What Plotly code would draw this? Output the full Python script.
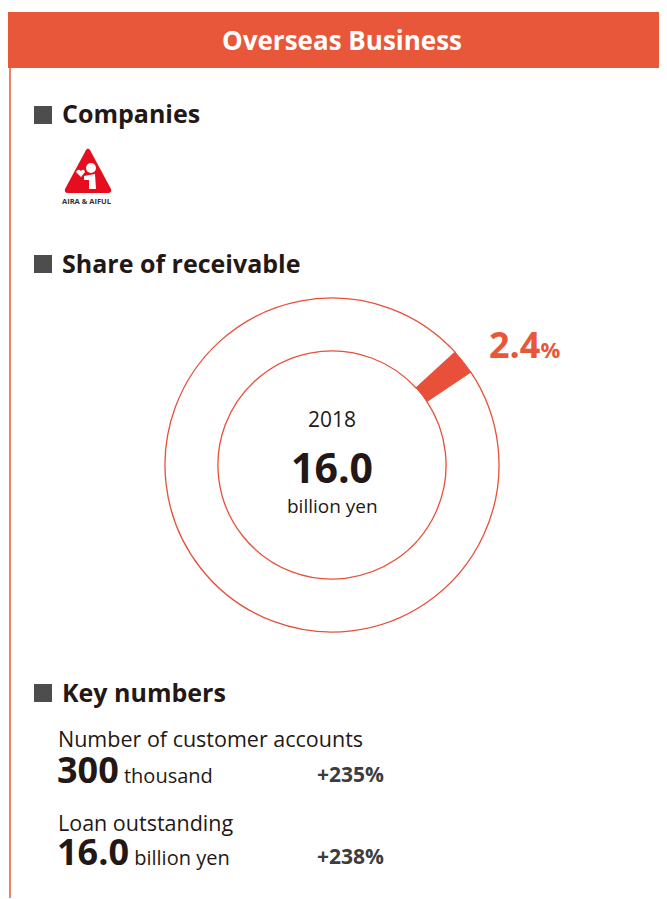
import plotly.graph_objects as go

# ---- data ----
share_labels = ["Overseas Business", "Other"]
share_values = [2.4, 97.6]
center_year = "2018"
center_value = "16.0"
center_unit = "billion yen"
share_text = "2.4"
metric_names = ["Number of customer accounts", "Loan outstanding"]
metric_values = ["300", "16.0"]
metric_units = ["thousand", "billion yen"]
metric_growth = ["+235%", "+238%"]
section_titles = ["Companies", "Share of receivable", "Key numbers"]
title_text = "Overseas Business"

W, H = 667, 899
OFF = 8  # page body margin
ORANGE = "#E9573A"
RING = "#E8503A"
DARK = "#231815"
GRAY = "#4D4D4D"
FONT = "Open Sans"

fig = go.Figure()

# donut
cx, cy, R = 332, 465, 167
fx, fy = cx - OFF, H - (cy - OFF)
fig.add_trace(go.Pie(
    labels=share_labels, values=share_values, hole=0.683,
    sort=False, direction="clockwise", rotation=47.5,
    marker=dict(colors=[RING, "white"], line=dict(color=[RING, RING], width=[1, 1.3])),
    textinfo="none", hoverinfo="skip", showlegend=False,
    domain=dict(x=[(fx - R) / W, (fx + R) / W], y=[(fy - R) / H, (fy + R) / H]),
))

shapes = []
# header bar
shapes.append(dict(type="rect", xref="x", yref="y", x0=8, x1=680, y0=12, y1=68,
                   fillcolor=ORANGE, line=dict(width=0), layer="below"))
# left border line
shapes.append(dict(type="line", xref="x", yref="y", x0=10, x1=10, y0=68, y1=898,
                   line=dict(color=ORANGE, width=1.5)))
# section squares
for yc in [115, 264, 693]:
    shapes.append(dict(type="rect", xref="x", yref="y", x0=34, x1=52, y0=yc - 9, y1=yc + 9,
                       fillcolor=GRAY, line=dict(width=0)))
# logo
shapes.append(dict(type="path", xref="x", yref="y",
                   path="M 86 150 Q 88 147 90 150 L 111 189 Q 112 193 108 193 L 68 193 Q 64 193 65 189 Z",
                   fillcolor="#E60E1E", line=dict(width=0)))
shapes.append(dict(type="circle", xref="x", yref="y", x0=86, x1=96, y0=163, y1=173,
                   fillcolor="white", line=dict(width=0)))
shapes.append(dict(type="path", xref="x", yref="y",
                   path="M 84 176 L 95 174 L 96 189 L 89 189 L 89 180 L 84 180 Z",
                   fillcolor="white", line=dict(width=0)))
shapes.append(dict(type="path", xref="x", yref="y",
                   path="M 76 172 Q 78 168 81 171 Q 84 168 85 172 L 81 177 Z",
                   fillcolor="white", line=dict(width=0)))

annotations = []
def ann(x, y, text, size, color=DARK, bold=False, xanchor="left", yanchor="middle"):
    t = f"<b>{text}</b>" if bold else text
    annotations.append(dict(x=x, y=y, xref="x", yref="y", text=t, showarrow=False,
                            xanchor=xanchor, yanchor=yanchor,
                            font=dict(family=FONT, size=size, color=color)))

ann(342, 40, title_text, 26, color="white", bold=True, xanchor="center")
ann(60, 113, section_titles[0], 25, bold=True)
ann(60, 263, section_titles[1], 25, bold=True)
ann(60, 692, section_titles[2], 25, bold=True)
ann(86, 201, "<b>AIRA &amp; AIFUL</b>", 7.5, color="#333333", xanchor="center")

# center texts
ann(332, 419, center_year, 21, xanchor="center")
ann(332, 467, center_value, 41, bold=True, xanchor="center")
ann(332, 506, center_unit, 19, xanchor="center")
# share label
ann(487, 344, f"<b>{share_text}<span style='font-size:22px'>%</span></b>", 36, color=ORANGE)

# key numbers
rows_y = [(738, 769), (822, 851)]
for i in range(2):
    ny, vy = rows_y[i]
    ann(56, ny, metric_names[i], 21.5)
    ann(55, vy, f"<b>{metric_values[i]}</b><span style='font-size:20px'> {metric_units[i]}</span>", 36)
    ann(315, vy + 5, metric_growth[i], 21, color="#3D3D3D", bold=True)

fig.update_layout(
    width=W, height=H, margin=dict(l=0, r=0, t=0, b=0),
    paper_bgcolor="white", plot_bgcolor="rgba(0,0,0,0)",
    xaxis=dict(range=[OFF, W + OFF], visible=False, fixedrange=True),
    yaxis=dict(range=[H + OFF, OFF], visible=False, fixedrange=True),
    shapes=shapes, annotations=annotations,
)
fig.write_html("out.html")
